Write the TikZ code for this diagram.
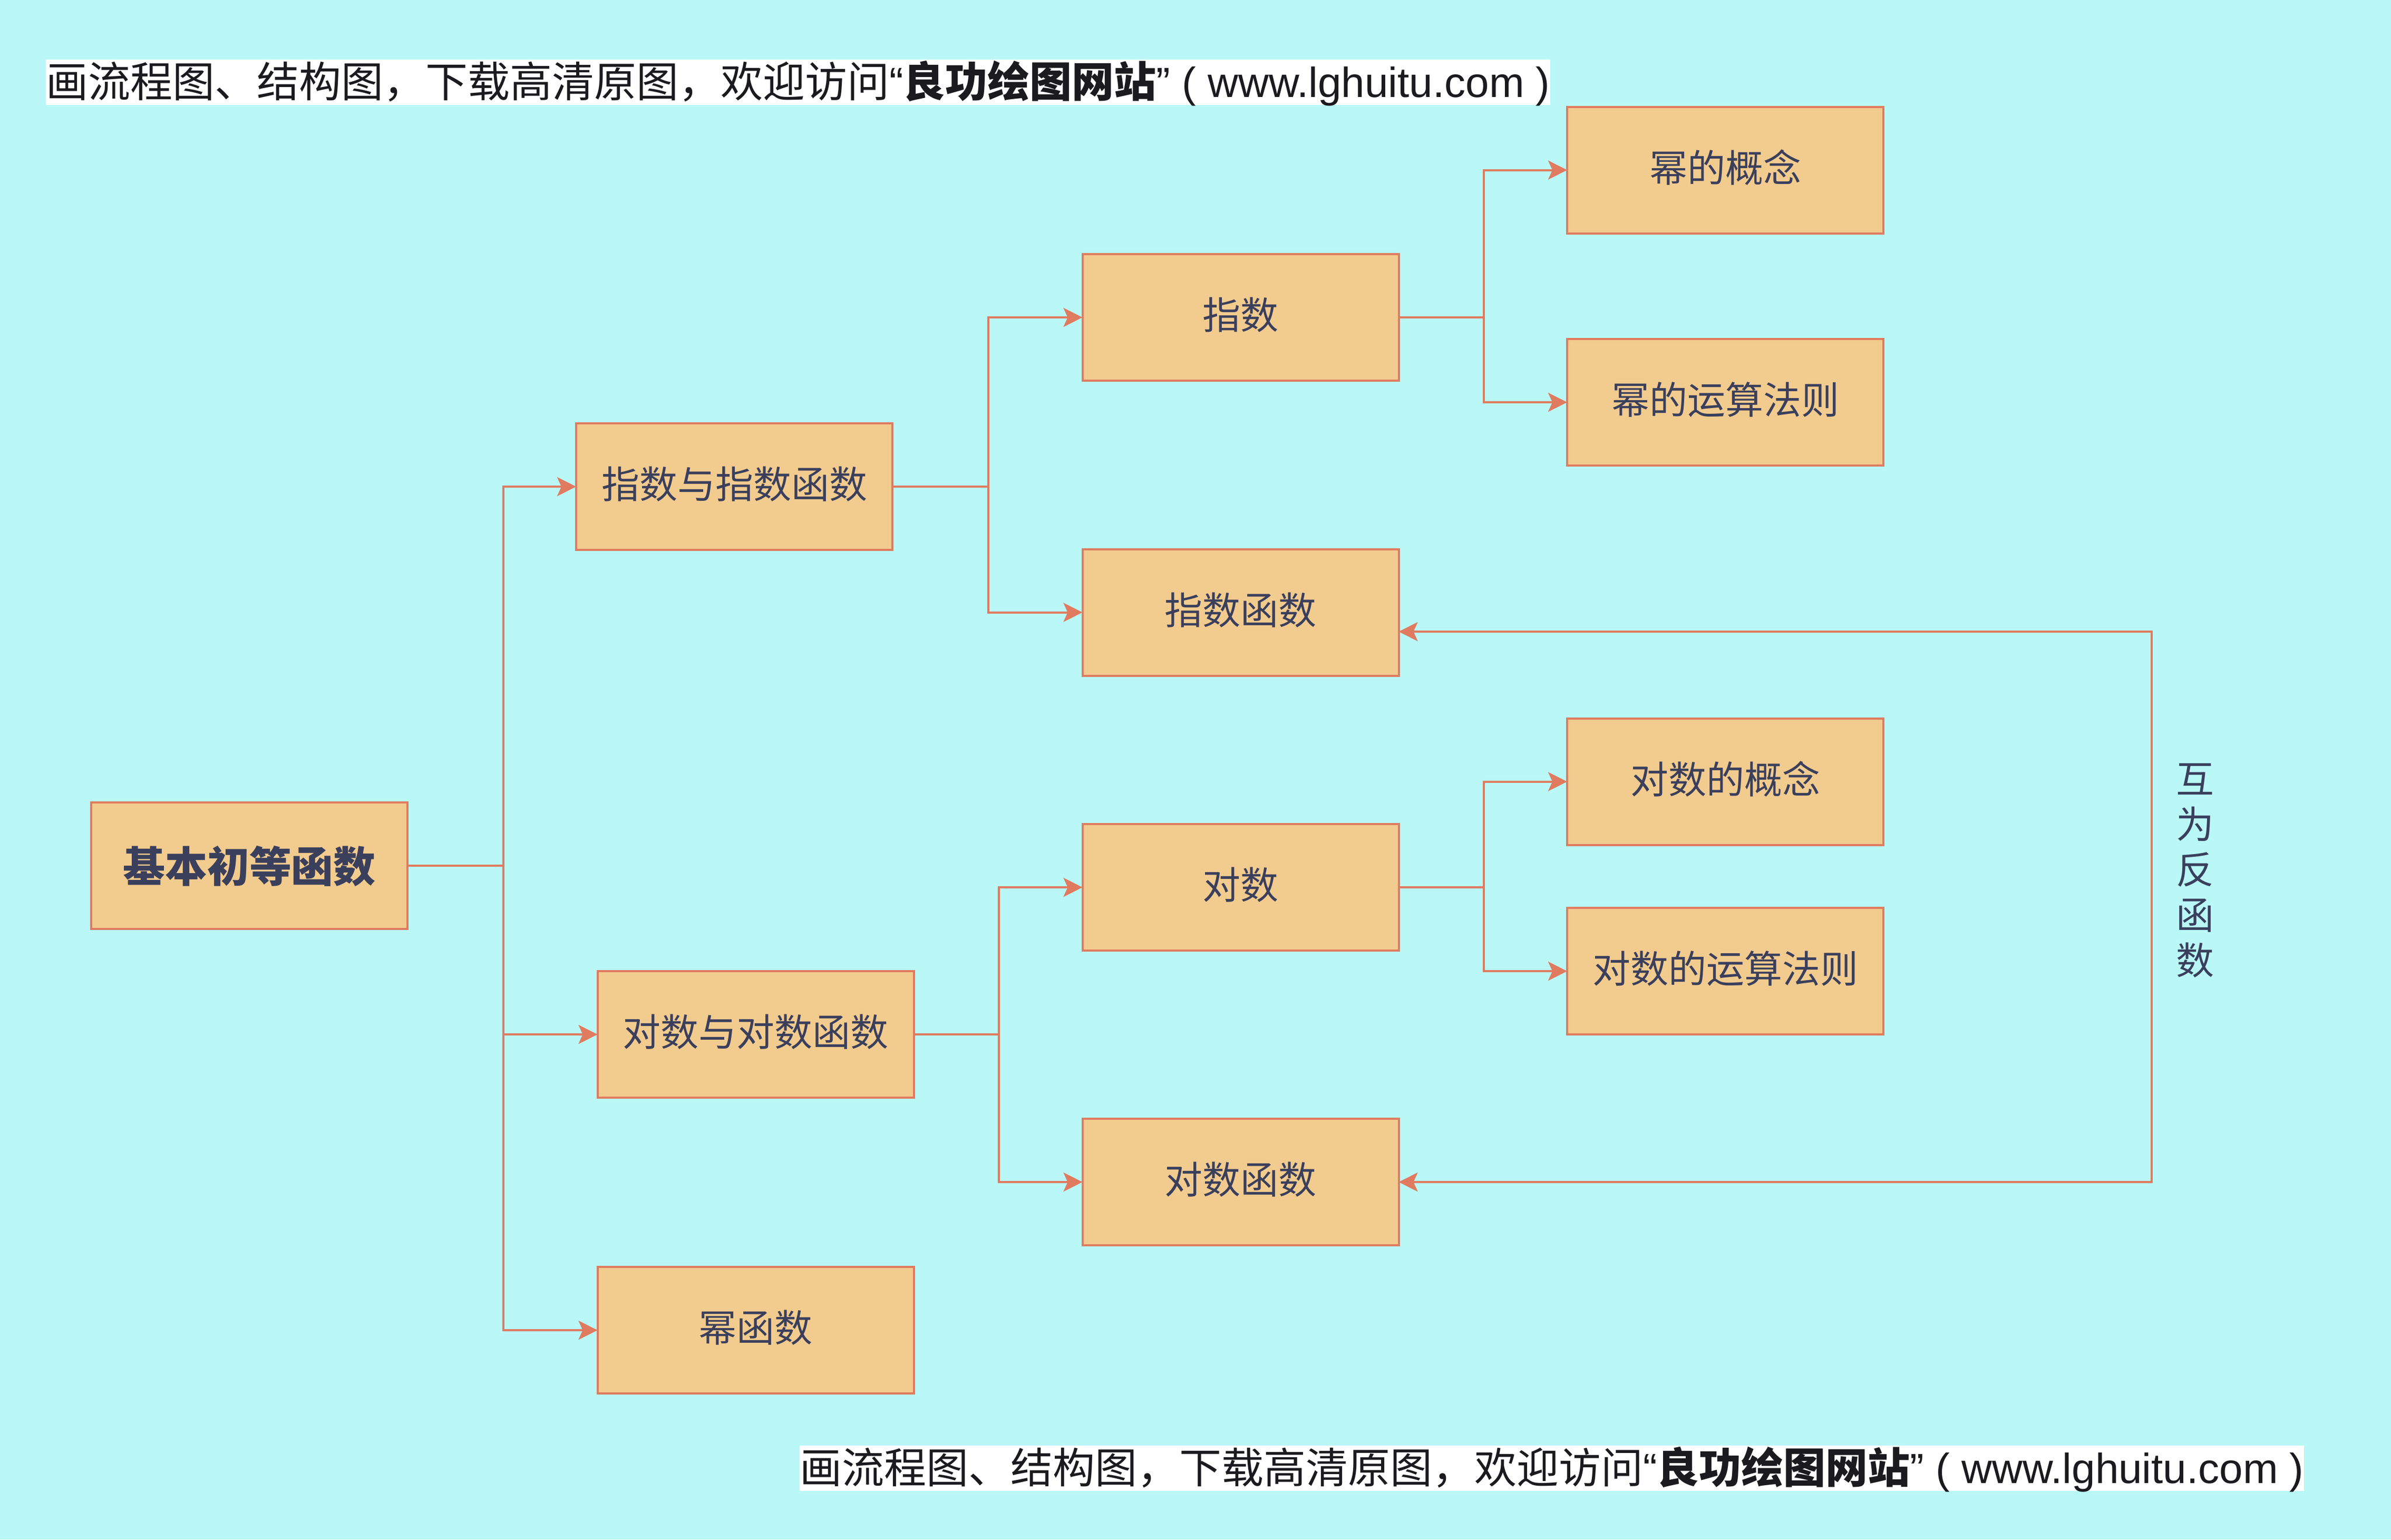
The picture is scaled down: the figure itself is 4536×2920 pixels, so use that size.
\documentclass[tikz,border=0pt]{standalone}
\usepackage{fontspec}
\setmainfont{Liberation Sans}
\newfontfamily\cjk{Noto Sans CJK SC}
\usetikzlibrary{arrows.meta}
\definecolor{bgblue}{RGB}{185,248,247}
\definecolor{boxfill}{RGB}{242,203,142}
\definecolor{linered}{RGB}{224,123,95}
\definecolor{textblue}{RGB}{58,63,92}
\definecolor{bannertext}{RGB}{26,26,31}
\tikzset{
  boxnode/.style={draw=linered,fill=boxfill,line width=0.4pt,minimum width=60pt,minimum height=24pt,
    inner sep=0pt,outer sep=0pt,text=textblue,text height=5.5pt,text depth=1pt,
    font=\cjk\fontsize{7.2}{8.6}\selectfont},
  rootnode/.style={boxnode,text height=7pt,text depth=0.8pt,font=\cjk\bfseries\fontsize{8}{9}\selectfont},
  link/.style={draw=linered,line width=0.4pt,-{Stealth[length=3.6pt,width=3.6pt,inset=0.8pt]}},
  banner/.style={fill=white,text=bannertext,inner sep=0pt,minimum width=285pt,minimum height=8.6pt,
    text height=6.6pt,text depth=0.9pt,font=\fontsize{8}{9}\selectfont},
}
\newcommand{\bannertxt}{{\cjk 画流程图、结构图，下载高清原图，欢迎访问}“{\cjk\bfseries 良功绘图网站}” ( www.lghuitu.com )}
\begin{document}
\begin{tikzpicture}[x=0.1pt,y=-0.1pt]
    \fill[bgblue] (0,0) rectangle (4536,2920);
    \useasboundingbox (0,0) rectangle (4536,2920);
    %banners
    \node[banner] (bannertop) at (1514,156) {\bannertxt};
    \node[banner] (bannerbot) at (2944,2785) {\bannertxt};
    %boxes
    \node[rootnode] (root) at (473,1642) {基本初等函数};
    \node[boxnode] (expgroup) at (1393,923) {指数与指数函数};
    \node[boxnode] (loggroup) at (1433.5,1962) {对数与对数函数};
    \node[boxnode] (powfunc) at (1433.5,2523) {幂函数};
    \node[boxnode] (expnum) at (2353.5,602) {指数};
    \node[boxnode] (expfunc) at (2353.5,1161.5) {指数函数};
    \node[boxnode] (lognum) at (2353.5,1683) {对数};
    \node[boxnode] (logfunc) at (2353.5,2242) {对数函数};
    \node[boxnode] (powidea) at (3273,322.5) {幂的概念};
    \node[boxnode] (powrule) at (3273,763) {幂的运算法则};
    \node[boxnode] (logidea) at (3273,1482.5) {对数的概念};
    \node[boxnode] (logrule) at (3273,1842) {对数的运算法则};
    \node[text=textblue,align=center,inner sep=0pt,font=\cjk\fontsize{7.2}{8.6}\selectfont] (invlabel) at (4164,1651)
      {互\\为\\反\\函\\数};
    %bus lines
    \coordinate (rootbus) at (955,0);
    \coordinate (expbus) at (1875,0);
    \coordinate (logbus) at (1895,0);
    \coordinate (numbus) at (2815,0);
    \coordinate (invtop) at (4082,1198);
    %connectors
    \foreach \b in {expgroup,loggroup,powfunc}
      \draw[link] (root.east) -- (rootbus |- root.east) |- (\b.west);
    \foreach \b in {expnum,expfunc}
      \draw[link] (expgroup.east) -- (expbus |- expgroup.east) |- (\b.west);
    \foreach \b in {lognum,logfunc}
      \draw[link] (loggroup.east) -- (logbus |- loggroup.east) |- (\b.west);
    \foreach \b in {powidea,powrule}
      \draw[link] (expnum.east) -- (numbus |- expnum.east) |- (\b.west);
    \foreach \b in {logidea,logrule}
      \draw[link] (lognum.east) -- (numbus |- lognum.east) |- (\b.west);
    \draw[link,{Stealth[length=3.6pt,width=3.6pt,inset=0.8pt]}-{Stealth[length=3.6pt,width=3.6pt,inset=0.8pt]}]
      (logfunc.east) -| (invtop) -- (expfunc.east |- invtop);
\end{tikzpicture}
\end{document}
